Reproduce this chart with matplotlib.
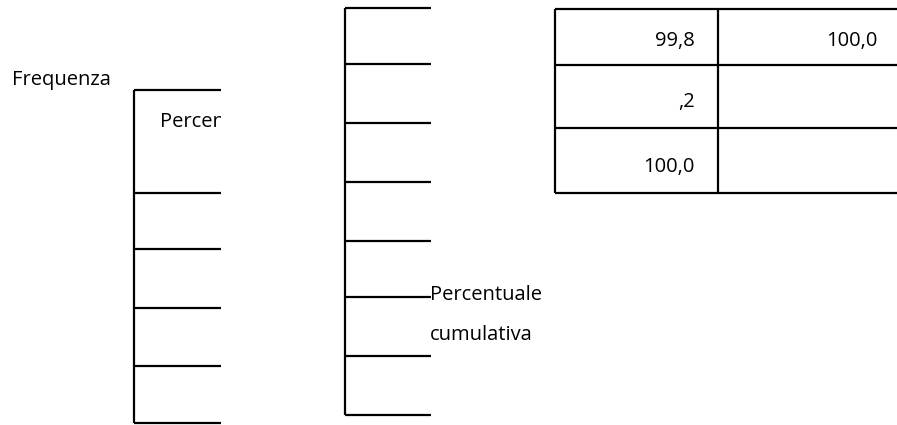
import matplotlib
matplotlib.use("Agg")
import matplotlib.pyplot as plt
from matplotlib.patches import Rectangle

plt.rcParams["font.family"] = ["Open Sans", "DejaVu Sans"]

# text content of the table fragments
col1_values = ["99,8", ",2", "100,0"]
col2_values = ["100,0", "", ""]
row_label = "Frequenza"
clipped_header = "Percentuale"
cum_header = ["Percentuale", "cumulativa"]

# layout (pixel positions, y downward)
LEFT_X, LEFT_RIGHT = 134, 221
LEFT_ROWS = [90, 193, 249, 308, 366, 423]
MID_X, MID_RIGHT = 345, 431
MID_ROWS = [8, 64, 123, 182, 241, 297, 356, 415]
TAB_X, TAB_MID, TAB_RIGHT = 555, 718, 897
TAB_ROWS = [9, 65, 128, 193]
TAB_BASELINES = [46, 107, 172]
LW = 1.6
TXT = 14.5

fig = plt.figure(figsize=(8.97, 4.25), dpi=100)
ax = fig.add_axes([0, 0, 1, 1])
ax.set_xlim(0, 897)
ax.set_ylim(425, 0)
ax.axis("off")

# left fragment
ax.vlines(LEFT_X, LEFT_ROWS[0], LEFT_ROWS[-1], color="black", lw=LW)
ax.hlines(LEFT_ROWS, LEFT_X, LEFT_RIGHT, color="black", lw=LW)
ax.text(12, 85, row_label, fontsize=TXT, va="baseline", ha="left")
t = ax.text(160, 127, clipped_header, fontsize=TXT, va="baseline", ha="left",
            clip_on=True)
t.set_clip_path(Rectangle((LEFT_X, LEFT_ROWS[0]), LEFT_RIGHT - LEFT_X,
                          LEFT_ROWS[1] - LEFT_ROWS[0], transform=ax.transData))

# middle fragment
ax.vlines(MID_X, MID_ROWS[0], MID_ROWS[-1], color="black", lw=LW)
ax.hlines(MID_ROWS, MID_X, MID_RIGHT, color="black", lw=LW)
ax.text(MID_RIGHT - 1, 300, cum_header[0], fontsize=TXT, va="baseline", ha="left")
ax.text(MID_RIGHT - 1, 340, cum_header[1], fontsize=TXT, va="baseline", ha="left")

# right table
ax.vlines([TAB_X, TAB_MID], TAB_ROWS[0], TAB_ROWS[-1], color="black", lw=LW)
ax.hlines(TAB_ROWS, TAB_X, TAB_RIGHT, color="black", lw=LW)
for yb, a, b in zip(TAB_BASELINES, col1_values, col2_values):
    ax.text(TAB_MID - 23, yb, a, fontsize=TXT, va="baseline", ha="right")
    if b:
        ax.text(TAB_RIGHT - 19, yb, b, fontsize=TXT, va="baseline", ha="right")

fig.savefig("out.png", facecolor="white")
